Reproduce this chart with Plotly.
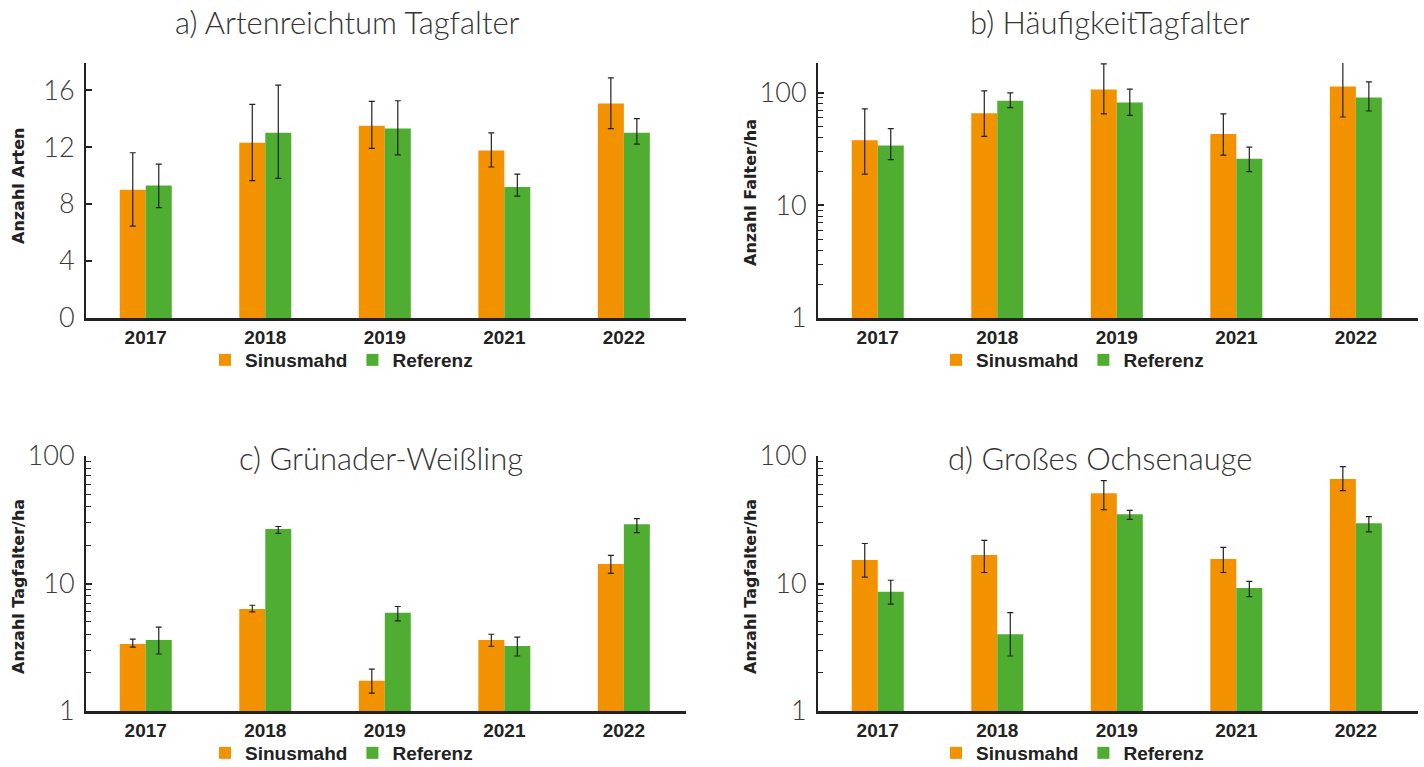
import plotly.graph_objects as go

years = ["2017", "2018", "2019", "2021", "2022"]

# a) Artenreichtum Tagfalter (Anzahl Arten)
a_sin = [9.0, 12.3, 13.5, 11.75, 15.05]
a_sin_lo = [6.45, 9.65, 11.9, 10.6, 13.3]
a_sin_hi = [11.6, 15.0, 15.2, 13.0, 16.85]
a_ref = [9.3, 13.0, 13.3, 9.2, 13.0]
a_ref_lo = [7.75, 9.8, 11.45, 8.55, 12.2]
a_ref_hi = [10.8, 16.35, 15.25, 10.1, 14.0]

# b) Häufigkeit Tagfalter (Falter/ha)
b_sin = [38, 66, 107, 43, 114]
b_sin_lo = [19, 41, 65, 28, 61]
b_sin_hi = [72, 104, 181, 65, 208]
b_ref = [34, 85, 82, 26, 91]
b_ref_lo = [25.5, 74, 63, 20, 69]
b_ref_hi = [48, 100, 108, 33, 125]

# c) Grünader-Weißling (Tagfalter/ha)
c_sin = [3.36, 6.3, 1.73, 3.6, 14.2]
c_sin_lo = [3.17, 6.0, 1.38, 3.22, 12.0]
c_sin_hi = [3.66, 6.75, 2.13, 4.0, 16.6]
c_ref = [3.6, 26.7, 5.9, 3.24, 29.2]
c_ref_lo = [2.8, 24.7, 5.1, 2.7, 25.1]
c_ref_hi = [4.55, 28.0, 6.6, 3.8, 32.3]

# d) Großes Ochsenauge (Tagfalter/ha)
d_sin = [15.3, 16.7, 51, 15.6, 66]
d_sin_lo = [11.2, 12.2, 38, 12.2, 53.5]
d_sin_hi = [20.6, 21.8, 64, 19.2, 82.5]
d_ref = [8.6, 4.0, 35, 9.2, 29.7]
d_ref_lo = [6.9, 2.7, 31.8, 7.9, 25.4]
d_ref_hi = [10.6, 5.9, 37.4, 10.4, 33.5]

series_names = ["Sinusmahd", "Referenz"]
titles = ["a) Artenreichtum Tagfalter", "b) HäufigkeitTagfalter",
          "c) Grünader-Weißling", "d) Großes Ochsenauge"]
ylabels = ["Anzahl Arten", "Anzahl Falter/ha", "Anzahl Tagfalter/ha", "Anzahl Tagfalter/ha"]
lin_ticks = [0, 4, 8, 12, 16]
log_ticks = [1, 10, 100]
log_minor = [2, 3, 4, 5, 6, 7, 8, 9, 20, 30, 40, 50, 60, 70, 80, 90]

ORANGE = "#F39200"
GREEN = "#4FAE32"
INK = "#222222"
LIGHT_FONT = "Lato"
W, H = 1424, 767

panels = [
    (a_sin, a_sin_lo, a_sin_hi, a_ref, a_ref_lo, a_ref_hi),
    (b_sin, b_sin_lo, b_sin_hi, b_ref, b_ref_lo, b_ref_hi),
    (c_sin, c_sin_lo, c_sin_hi, c_ref, c_ref_lo, c_ref_hi),
    (d_sin, d_sin_lo, d_sin_hi, d_ref, d_ref_lo, d_ref_hi),
]

# plot-area boxes in pixels: (left, right, top, bottom)
boxes = [(86, 686, 63, 318), (818, 1418, 63, 318),
         (86, 686, 456, 711), (818, 1418, 456, 711)]
title_pos = [(347, 22), (1110, 22), (381, 458), (1100, 458)]
ylabel_pos = [(18, 186), (750, 193), (18, 587), (750, 587)]
legend_pos = [(205, 360), (936, 360), (205, 753), (936, 753)]

fig = go.Figure()
layout = dict(
    width=W, height=H,
    margin=dict(l=0, r=0, t=0, b=0, pad=0, autoexpand=False),
    paper_bgcolor="white", plot_bgcolor="white",
    barmode="group", bargap=0.565, bargroupgap=0,
    font=dict(family="Roboto", color=INK),
    annotations=[],
)


def err(vals, lo, hi):
    return dict(type="data", symmetric=False,
                array=[h - v for v, h in zip(vals, hi)],
                arrayminus=[v - l for v, l in zip(vals, lo)],
                color=INK, thickness=1.2, width=3)


for i, (sv, sl, sh, rv, rl, rh) in enumerate(panels):
    n = i + 1
    xa = "x" if n == 1 else f"x{n}"
    ya = "y" if n == 1 else f"y{n}"
    leg = "legend" if n == 1 else f"legend{n}"
    for name, vals, lo, hi, col in [(series_names[0], sv, sl, sh, ORANGE),
                                    (series_names[1], rv, rl, rh, GREEN)]:
        fig.add_trace(go.Bar(
            x=years, y=vals, name=name, marker=dict(color=col, line=dict(width=0)),
            error_y=err(vals, lo, hi), xaxis=xa, yaxis=ya, legend=leg,
            hoverinfo="x+y",
        ))

    l, r, t, b = boxes[i]
    xdom = [l / W, r / W]
    ydom = [1 - b / H, 1 - t / H]
    xkey = "xaxis" if n == 1 else f"xaxis{n}"
    ykey = "yaxis" if n == 1 else f"yaxis{n}"
    layout[xkey] = dict(
        domain=xdom, anchor=ya, type="category", range=[-0.5, 4.52],
        showline=True, linecolor=INK, linewidth=2.5, ticks="",
        showgrid=False, zeroline=False, fixedrange=True, automargin=False,
        tickfont=dict(family="Liberation Sans", size=19, color=INK, weight="bold"),
    )
    ycommon = dict(
        domain=ydom, anchor=xa, showline=True, linecolor=INK, linewidth=2,
        showgrid=False, zeroline=False, ticks="inside", ticklen=6,
        tickwidth=1.5, tickcolor=INK, ticklabelstandoff=4, fixedrange=True,
        automargin=False,
        tickfont=dict(family=LIGHT_FONT, size=27, color="#3a3a3a", weight=300),
    )
    if n == 1:
        ycommon.update(range=[0, 17.9], tickvals=lin_ticks)
    else:
        top = 2.265 if n == 2 else 2.0
        ycommon.update(type="log", range=[0, top], tickvals=log_ticks,
                       ticktext=[str(v) for v in log_ticks],
                       minor=dict(ticks="inside", ticklen=5, tickwidth=1.2,
                                  tickcolor=INK, showgrid=False,
                                  tickvals=log_minor))
    layout[ykey] = ycommon

    lx, ly = legend_pos[i]
    layout[leg] = dict(
        orientation="h", x=lx / W, y=1 - ly / H, xanchor="left", yanchor="middle",
        font=dict(family="Liberation Sans", size=19, color=INK, weight="bold"),
        bgcolor="rgba(0,0,0,0)", borderwidth=0, itemclick=False, itemdoubleclick=False,
        tracegroupgap=0,
    )

    tx, ty = title_pos[i]
    layout["annotations"].append(dict(
        text=titles[i], x=tx / W, y=1 - ty / H, xref="paper", yref="paper",
        xanchor="center", yanchor="middle", showarrow=False,
        font=dict(family=LIGHT_FONT, size=31, color="#333333", weight=300),
    ))
    yx, yy = ylabel_pos[i]
    layout["annotations"].append(dict(
        text=ylabels[i], x=yx / W, y=1 - yy / H, xref="paper", yref="paper",
        xanchor="center", yanchor="middle", showarrow=False, textangle=-90,
        font=dict(family="DejaVu Sans", size=16, color=INK, weight="bold"),
    ))

fig.update_layout(**layout)
fig.write_html("out.html")
